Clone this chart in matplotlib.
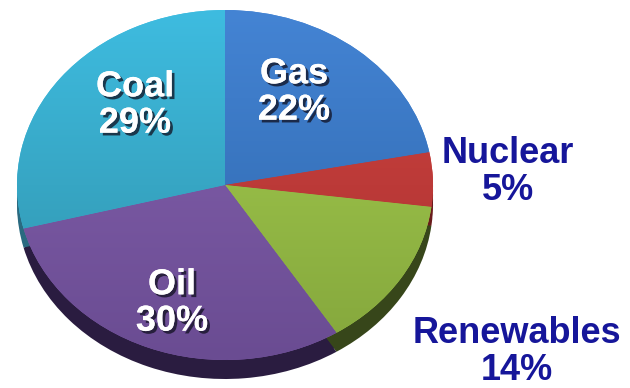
import numpy as np
import matplotlib
matplotlib.use("Agg")
import matplotlib.pyplot as plt
import matplotlib.patheffects as pe
from matplotlib.colors import LinearSegmentedColormap

# Energy mix shares (percent), clockwise from 12 o'clock
labels = ["Gas", "Nuclear", "Renewables", "Oil", "Coal"]
shares = [22, 5, 14, 30, 29]

# top / bottom gradient colours of each slice, and side colours
top_cols = ["#4484d4", "#d04440", "#a6cf50", "#8662b0", "#3ebce0"]
bot_cols = ["#2c64a8", "#a83030", "#84a63c", "#6a4c92", "#3090a8"]
side_cols = ["#1e3a66", "#6a1c1c", "#37461a", "#2a1c40", "#2a6a80"]

W, H = 630, 388
cx, cy, rx, ry = 225, 185, 208, 175   # pixel layout of the top ellipse
depth = 19 / ry

fig = plt.figure(figsize=(W / 100, H / 100), dpi=100)
ax = fig.add_axes([0, 0, 1, 1])

# side of the disc: same pie shifted down, darker
for k in range(4):
    off = depth * (k + 1) / 4
    ax.pie(shares, colors=side_cols, startangle=90, counterclock=False,
           center=(0, -off), radius=1, wedgeprops=dict(linewidth=0))

# top face
wedges, _ = ax.pie(shares, colors=top_cols, startangle=90, counterclock=False,
                   center=(0, 0), radius=1, wedgeprops=dict(linewidth=0))

xlim = (-cx / rx, (W - cx) / rx)
ylim = (-(H - cy) / ry, cy / ry)

grad = np.linspace(1, 0, 256).reshape(-1, 1)
for w, c1, c2 in zip(wedges, top_cols, bot_cols):
    cmap = LinearSegmentedColormap.from_list("g", [c2, c1])
    im = ax.imshow(grad, cmap=cmap, extent=(-1, 1, -1, 1), aspect="auto",
                   interpolation="bilinear", zorder=w.get_zorder() + 0.1)
    im.set_clip_path(w)

ax.set_aspect("auto")
ax.set_xlim(*xlim)
ax.set_ylim(*ylim)
ax.axis("off")

font = dict(family="Liberation Sans", weight="bold", size=26)
shadow = [pe.withSimplePatchShadow(offset=(2, -2), shadow_rgbFace="#101020", alpha=0.75),
          pe.Normal()]

inside = {"Gas": (294, 92), "Coal": (135, 105), "Oil": (172, 303)}
outside = {"Nuclear": (508, 172), "Renewables": (517, 352)}

for lab, val in zip(labels, shares):
    txt = f"{lab}\n{val}%"
    if lab in inside:
        px, py = inside[lab]
        fig.text(px / W, 1 - py / H, txt, ha="center", va="center", color="white",
                 linespacing=1.05, path_effects=shadow, **font)
    else:
        px, py = outside[lab]
        fig.text(px / W, 1 - py / H, txt, ha="center", va="center", color="#16169a",
                 linespacing=1.05, **font)

fig.savefig("out.png", dpi=100)
